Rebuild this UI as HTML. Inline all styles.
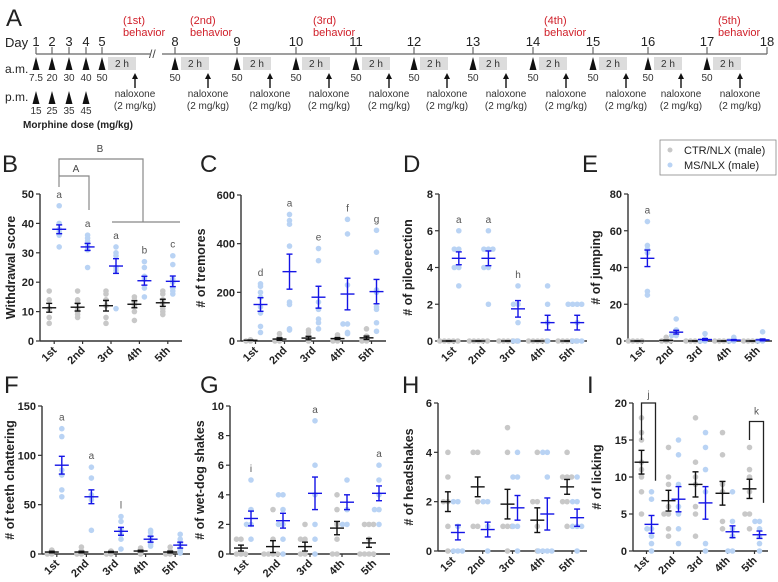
<!DOCTYPE html>
<html><head><meta charset="utf-8"><style>
body{margin:0;background:#fff}
svg{display:block;font-family:"Liberation Sans",Arial,sans-serif}
</style></head><body>
<svg id="fig" width="778" height="582" viewBox="0 0 778 582"></svg>
<script>
const NS="http://www.w3.org/2000/svg";
const svg=document.getElementById('fig');
function mk(tag,attrs,parent,txt){const e=document.createElementNS(NS,tag);for(const k in attrs)e.setAttribute(k,attrs[k]);if(txt!==undefined)e.textContent=txt;(parent||svg).appendChild(e);return e;}

// ---------- Timeline data ----------
const days=[1,2,3,4,5,8,9,10,11,12,13,14,15,16,17,18];
const dayX=[36,52,69,86,102,175,237,296,356,414,473,533,593,648,707,767];
const amDoses=["7.5","20","30","40","50","50","50","50","50","50","50","50","50","50","50"];
const pmDoses=["15","25","35","45"];
const behaviorLabels=["(1st)","(2nd)","(3rd)","(4th)","(5th)"];
const behaviorX=[123,190,313,544,718];

const tl=mk('g',{});


mk('text',{x:6,y:26,'font-size':24,fill:'#222'},tl,'A');
mk('text',{x:5,y:47,'font-size':13,fill:'#222'},tl,'Day');
mk('text',{x:5,y:73,'font-size':12,fill:'#222'},tl,'a.m.');
mk('text',{x:5,y:101,'font-size':12,fill:'#222'},tl,'p.m.');
mk('text',{x:23,y:128,'font-size':10,'font-weight':'bold',fill:'#222'},tl,'Morphine dose (mg/kg)');
mk('line',{x1:36,y1:54,x2:150,y2:54,stroke:'#666','stroke-width':1.3},tl);
mk('line',{x1:162,y1:54,x2:767,y2:54,stroke:'#666','stroke-width':1.3},tl);
mk('text',{x:149,y:58,'font-size':12,fill:'#444'},tl,'//');
days.forEach((d,i)=>{
  const x=dayX[i];
  mk('line',{x1:x,y1:47,x2:x,y2:54,stroke:'#666','stroke-width':1.2},tl);
  mk('text',{x:x,y:46,'font-size':13,'text-anchor':'middle',fill:'#222'},tl,String(d));
  if(i<amDoses.length){
    mk('polygon',{points:`${x-3.5},70 ${x+3.5},70 ${x},57`,fill:'#111'},tl);
    mk('text',{x:x,y:81,'font-size':10,'text-anchor':'middle',fill:'#333'},tl,amDoses[i]);
  }
  if(i<pmDoses.length){
    mk('polygon',{points:`${x-3.5},104 ${x+3.5},104 ${x},91`,fill:'#111'},tl);
    mk('text',{x:x,y:114,'font-size':10,'text-anchor':'middle',fill:'#333'},tl,pmDoses[i]);
  }
  if(i>=4 && i<amDoses.length){
    mk('rect',{x:x+6,y:57,width:28,height:13,fill:'#dcdcdc'},tl);
    mk('text',{x:x+20,y:67,'font-size':10,'text-anchor':'middle',fill:'#333'},tl,'2 h');
    const ax=x+33;
    mk('line',{x1:ax,y1:88,x2:ax,y2:77,stroke:'#111','stroke-width':1.4},tl);
    mk('polygon',{points:`${ax-3},79 ${ax+3},79 ${ax},73`,fill:'#111'},tl);
    mk('text',{x:ax,y:97,'font-size':10,'text-anchor':'middle',fill:'#333'},tl,'naloxone');
    mk('text',{x:ax,y:109,'font-size':10,'text-anchor':'middle',fill:'#333'},tl,'(2 mg/kg)');
  }
});
behaviorLabels.forEach((b,i)=>{
  mk('text',{x:behaviorX[i],y:24,'font-size':11,fill:'#d0202a'},tl,b);
  mk('text',{x:behaviorX[i],y:36,'font-size':11,fill:'#d0202a'},tl,'behavior');
});

// ---------- Legend ----------
const lg=mk('g',{});


mk('rect',{x:660,y:140,width:116,height:35,fill:'#fff',stroke:'#888','stroke-width':0.8},lg);
mk('circle',{cx:670,cy:150,r:2.5,fill:'#c8c8c8'},lg);
mk('circle',{cx:670,cy:165,r:2.5,fill:'#b9d3f4'},lg);
mk('text',{x:684,y:154,'font-size':11,fill:'#222'},lg,'CTR/NLX (male)');
mk('text',{x:684,y:169,'font-size':11,fill:'#222'},lg,'MS/NLX (male)');

// ---------- Chart data ----------
const sessions=["1st","2nd","3rd","4th","5th"];
// B withdrawal score
const bGrayPts=[[17,14,11,8,6],[17,14,13,11,10,9,8],[17,16,14,12,8,6],[15,14,13,12,10,7],[17,16,14,13,11,10,9]];
const bGrayMean=[11.3,11.5,12,12.5,13];
const bGraySem=[1.5,1.3,1.8,1.2,1.2];
const bBluePts=[[46,40,38,37,36,32],[36,35,34,33,32,31,25],[32,30,29,25,24,11],[27,25,22,21,18,15],[29,26,21,20,18,17,16]];
const bBlueMean=[38,32,25.5,20.5,20.3];
const bBlueSem=[1.5,1.2,2.5,1.5,1.8];
const bLetters=["a","a","a","b","c"];
// C tremors
const cGrayPts=[[5,3,2,1,0,0],[30,15,10,5,0,0],[45,35,20,10,5,0],[25,15,10,5,0,0],[50,20,10,5,0,0]];
const cGrayMean=[3,8,12,10,13];
const cGraySem=[1,5,7,4,7];
const cBluePts=[[235,225,200,180,140,115,60,35],[520,495,480,390,160,150,50,45],[380,330,160,130,90,75,50],[500,440,230,70,70,35,30],[455,365,210,200,140,130,75,40]];
const cBlueMean=[150,285,180,193,203];
const cBlueSem=[28,72,45,65,50];
const cLetters=["d","a","e","f","g"];
// D piloerection
const dGrayPts=[[0,0,0,0,0],[0,0,0,0,0],[0,0,0,0,0],[0,0,0,0,0],[0,0,0,0,0]];
const dGrayMean=[0,0,0,0,0];
const dGraySem=[0,0,0,0,0];
const dBluePts=[[6,5,5,4,4,3],[6,5,5,5,4,4,2],[3,2,2,1,0,0],[3,2,1,0],[2,2,2,2,1,0,0,0]];
const dBlueMean=[4.5,4.5,1.75,1,1];
const dBlueSem=[0.35,0.4,0.45,0.4,0.4];
const dLetters=["a","a","h","",""];
// E jumping
const eGrayPts=[[0,0,0,0],[2,0,0,0],[0,0,0,0],[0,0,0,0],[0,0,0,0]];
const eGrayMean=[0,0.3,0,0,0];
const eGraySem=[0,0.2,0,0,0];
const eBluePts=[[65,52,50,48,27,25],[12,6,5,3,3],[4,1,0,0],[2,0,0],[5,0,0]];
const eBlueMean=[45,4.8,0.8,0.5,0.6];
const eBlueSem=[4.5,1,0.5,0.3,0.5];
const eLetters=["a","","","",""];
// F teeth chattering
const fGrayPts=[[4,2,1,0,0],[7,3,2,0,0],[3,2,1,0,0],[6,4,3,1,0],[7,3,1,0,0]];
const fGrayMean=[2,2,2,3,2];
const fGraySem=[0.8,0.8,0.6,0.8,0.9];
const fBluePts=[[127,119,85,80,65,58],[88,77,60,58,55,24],[38,33,25,20,15,5],[24,22,18,12,10,8],[20,15,10,5,3,1]];
const fBlueMean=[90,58,23,15,9];
const fBlueSem=[9,7,4,3,3];
const fLetters=["a","a","l","",""];
// G wet-dog shakes
const gGrayPts=[[1,1,0,0,0],[3,1,0,0,0,0],[2,1,1,0,0],[4,3,2,1,0,0],[2,2,2,1,0,0,0,0]];
const gGrayMean=[0.4,0.5,0.5,1.75,0.75];
const gGraySem=[0.2,0.4,0.3,0.45,0.3];
const gBluePts=[[5,3,2,2,1],[4,4,3,2,2,1,0],[9,6,4,2,1,0],[5,3,2,2],[6,5,4,3,3,2]];
const gBlueMean=[2.4,2.25,4.1,3.5,4.1];
const gBlueSem=[0.5,0.5,1.1,0.5,0.5];
const gLetters=["i","","a","","a"];
// H headshakes
const hGrayPts=[[4,3,2,2,1,0],[4,4,2,1,1],[5,4,1,1,1,0],[4,2,2,1,0],[4,3,3,3,2,2,1]];
const hGrayMean=[2,2.6,1.9,1.25,2.6];
const hGraySem=[0.4,0.4,0.6,0.5,0.3];
const hBluePts=[[2,2,1,0,0,0],[2,2,1,0],[4,3,3,1,1,0],[4,4,3,0,0,0,0],[3,2,2,1,1,1,0]];
const hBlueMean=[0.75,0.87,1.75,1.5,1.35];
const hBlueSem=[0.3,0.3,0.5,0.65,0.35];
const hLetters=["","","","",""];
// I licking
const iGrayPts=[[18,16,15,12,11,10,8,5],[14,10,9,6,5,5,3,2],[18,12,10,9,6,5,2],[16,13,9,8,4,3],[14,11,10,8,5,5,3]];
const iGrayMean=[12,6.8,9,7.8,8.4];
const iGraySem=[1.6,1.4,1.7,1.6,1.3];
const iBluePts=[[8,7,3,3,2,1,0],[15,13,9,6,5,3,1],[16,14,11,8,1,0],[8,4,3,2,0,0],[4,4,3,2,1,0]];
const iBlueMean=[3.6,7,6.5,2.6,2.2];
const iBlueSem=[1.2,1.7,2.2,0.8,0.5];
const iLetters=["","","","",""];

function panel(o){
  const g=mk('g',{});
  
  
  const y=v=>o.y0-(v/o.ymax)*(o.y0-o.ytop);
  const span=o.x1-o.x0;
  const cx=i=>o.x0+span*(0.1+0.2*i);
  mk('text',{x:o.lx,y:o.ly,'font-size':24,fill:'#222'},g,o.letter);
  mk('line',{x1:o.x0,y1:o.ytop,x2:o.x0,y2:o.y0,stroke:'#333','stroke-width':1.4},g);
  mk('line',{x1:o.x0,y1:o.y0,x2:o.x1,y2:o.y0,stroke:'#333','stroke-width':1.4},g);
  o.ticks.forEach(t=>{
    mk('line',{x1:o.x0-4,y1:y(t),x2:o.x0,y2:y(t),stroke:'#333','stroke-width':1.2},g);
    const tx=mk('text',{x:o.x0-6,y:y(t)+4,'font-size':11,'font-weight':'bold','text-anchor':'end',fill:'#222'},g,String(t));
    
    
  });
  const tcy=(o.ytop+o.y0)/2;
  const yt=mk('text',{x:o.titleX,y:tcy,'font-size':12.5,'font-weight':'bold','text-anchor':'middle',fill:'#222',transform:`rotate(-90 ${o.titleX} ${tcy})`},g,o.title);
  
  
  sessions.forEach((s,i)=>{
    const x=cx(i);
    mk('line',{x1:x,y1:o.y0,x2:x,y2:o.y0+3,stroke:'#333','stroke-width':1.2},g);
    const lx=x+3, ly=o.y0+10;
    const tx=mk('text',{x:lx,y:ly,'font-size':11,'font-weight':'bold','text-anchor':'end',fill:'#222',transform:`rotate(-45 ${lx} ${ly})`},g,s);
    
    
    [[o.gp,o.gm,o.gs,-5,'#c8c8c8','#111'],[o.bp,o.bm,o.bs,5,'#b9d3f4','#1414e6']].forEach(([pts,m,se,off,dc,lc])=>{
      const gx=x+off;
      const seen={};
      pts[i].forEach(v=>{
        const k=v; const n=seen[k]||0; seen[k]=n+1;
        const dx=(n%2===0?1:-1)*Math.ceil(n/2)*4.5;
        const c=mk('circle',{cx:gx+dx,cy:y(v),r:2.8,fill:dc},g);
        
        
      });
      const mv=m[i], sv=se[i];
      const eb=mk('g',{stroke:lc,'stroke-width':1.4},g);
      
      
      mk('line',{x1:gx,y1:y(mv-sv),x2:gx,y2:y(mv+sv)},eb);
      mk('line',{x1:gx-3,y1:y(mv+sv),x2:gx+3,y2:y(mv+sv)},eb);
      mk('line',{x1:gx-3,y1:y(mv-sv),x2:gx+3,y2:y(mv-sv)},eb);
      mk('line',{x1:gx-7,y1:y(mv),x2:gx+7,y2:y(mv)},eb);
    });
    if(o.letters[i]){
      const top=Math.max(...o.bp[i]);
      mk('text',{x:x+5,y:y(top)-8,'font-size':10,'text-anchor':'middle',fill:'#555'},g,o.letters[i]);
    }
  });
  return {g,y,cx};
}

const B=panel({name:'panel-b-withdrawal',letter:'B',lx:2,ly:172,x0:40,x1:182,ytop:194,y0:341,ymax:50,ticks:[0,10,20,30,40,50],title:'Withdrawal score',titleX:15,gp:bGrayPts,gm:bGrayMean,gs:bGraySem,bp:bBluePts,bm:bBlueMean,bs:bBlueSem,letters:bLetters});
mk('path',{d:`M59 187 L59 159 L143 159 L143 222 M112 222 L180 222`,fill:'none',stroke:'#888','stroke-width':1.2},B.g);
mk('path',{d:`M59 176 L89 176 L89 210`,fill:'none',stroke:'#888','stroke-width':1.2},B.g);
mk('text',{x:100,y:152,'font-size':10,'text-anchor':'middle',fill:'#444'},B.g,'B');
mk('text',{x:76,y:172,'font-size':10,'text-anchor':'middle',fill:'#444'},B.g,'A');

panel({name:'panel-c-tremors',letter:'C',lx:200,ly:172,x0:241,x1:386,ytop:195,y0:341,ymax:600,ticks:[0,200,400,600],title:'# of tremores',titleX:205,gp:cGrayPts,gm:cGrayMean,gs:cGraySem,bp:cBluePts,bm:cBlueMean,bs:cBlueSem,letters:cLetters});
panel({name:'panel-d-piloerection',letter:'D',lx:403,ly:172,x0:439,x1:587,ytop:194,y0:341,ymax:8,ticks:[0,2,4,6,8],title:'# of piloerection',titleX:412,gp:dGrayPts,gm:dGrayMean,gs:dGraySem,bp:dBluePts,bm:dBlueMean,bs:dBlueSem,letters:dLetters});
panel({name:'panel-e-jumping',letter:'E',lx:582,ly:172,x0:628,x1:772,ytop:194,y0:341,ymax:80,ticks:[0,20,40,60,80],title:'# of jumping',titleX:600,gp:eGrayPts,gm:eGrayMean,gs:eGraySem,bp:eBluePts,bm:eBlueMean,bs:eBlueSem,letters:eLetters});
panel({name:'panel-f-teeth-chattering',letter:'F',lx:4,ly:393,x0:42,x1:190,ytop:406,y0:554,ymax:150,ticks:[0,50,100,150],title:'# of teeth chattering',titleX:14,gp:fGrayPts,gm:fGrayMean,gs:fGraySem,bp:fBluePts,bm:fBlueMean,bs:fBlueSem,letters:fLetters});
panel({name:'panel-g-wet-dog-shakes',letter:'G',lx:200,ly:393,x0:230,x1:390,ytop:406,y0:554,ymax:10,ticks:[0,2,4,6,8,10],title:'# of wet-dog shakes',titleX:204,gp:gGrayPts,gm:gGrayMean,gs:gGraySem,bp:gBluePts,bm:gBlueMean,bs:gBlueSem,letters:gLetters});
panel({name:'panel-h-headshakes',letter:'H',lx:402,ly:393,x0:438,x1:587,ytop:403,y0:551,ymax:6,ticks:[0,2,4,6],title:'# of headshakes',titleX:413,gp:hGrayPts,gm:hGrayMean,gs:hGraySem,bp:hBluePts,bm:hBlueMean,bs:hBlueSem,letters:hLetters});
const I=panel({name:'panel-i-licking',letter:'I',lx:587,ly:393,x0:633,x1:768,ytop:403,y0:551,ymax:20,ticks:[0,5,10,15,20],title:'# of licking',titleX:601,gp:iGrayPts,gm:iGrayMean,gs:iGraySem,bp:iBluePts,bm:iBlueMean,bs:iBlueSem,letters:iLetters});
{const x1=I.cx(0)-5,x2=I.cx(0)+5;
mk('path',{d:`M${x1} ${I.y(15)} L${x1} ${I.y(20)} L${x2+4} ${I.y(20)} L${x2+4} ${I.y(9.5)}`,fill:'none',stroke:'#222','stroke-width':1.3},I.g);
mk('text',{x:(x1+x2)/2+2,y:I.y(20)-5,'font-size':10,'text-anchor':'middle',fill:'#555'},I.g,'j');
const x3=I.cx(4)-5,x4=I.cx(4)+5;
mk('path',{d:`M${x3} ${I.y(15)} L${x3} ${I.y(17.5)} L${x4+4} ${I.y(17.5)} L${x4+4} ${I.y(6.5)}`,fill:'none',stroke:'#222','stroke-width':1.3},I.g);
mk('text',{x:(x3+x4)/2+2,y:I.y(17.5)-7,'font-size':10,'text-anchor':'middle',fill:'#555'},I.g,'k');}
</script>
</body></html>
